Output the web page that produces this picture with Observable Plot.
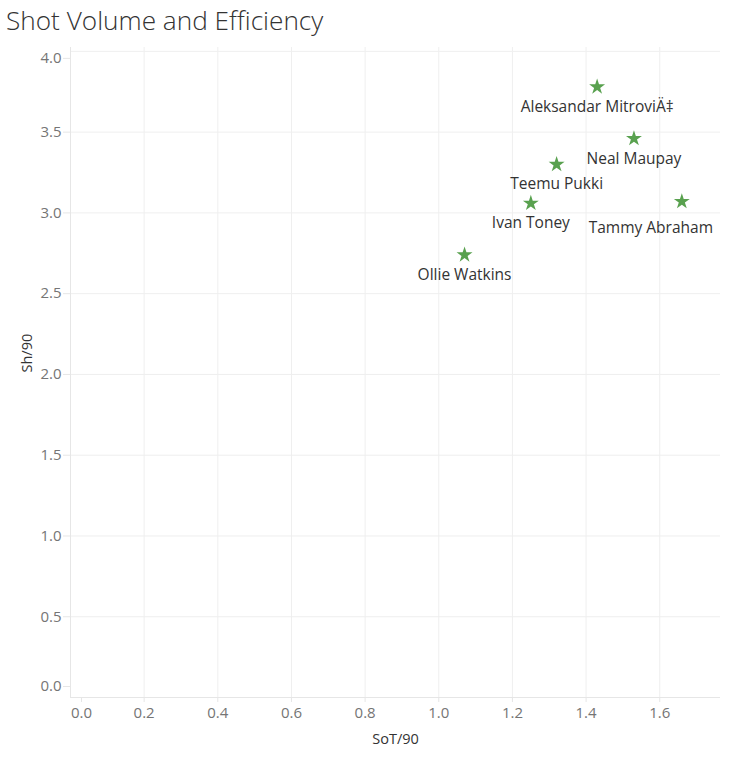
<!DOCTYPE html>
<html>
<head>
<meta charset="utf-8">
<script src="https://cdn.jsdelivr.net/npm/d3@7"></script>
<script src="https://cdn.jsdelivr.net/npm/@observablehq/plot@0.6"></script>
<style>
  body { margin: 0; background: #fff; }
  #title { font-family: "Open Sans", sans-serif; font-weight: 300; font-size: 26.2px; color: #333; height: 40px; line-height: 40px; padding-left: 6px; box-sizing: border-box; white-space: nowrap; }
  #chart svg { display: block; }
</style>
</head>
<body>
<div id="title">Shot Volume and Efficiency</div>
<div id="chart"></div>
<script>
const players = ["Aleksandar MitroviÄ‡", "Neal Maupay", "Teemu Pukki", "Ivan Toney", "Tammy Abraham", "Ollie Watkins"];
const sotPer90 = [1.43, 1.53, 1.32, 1.25, 1.66, 1.07];
const shPer90 = [3.78, 3.46, 3.30, 3.06, 3.07, 2.74];
const xTicks = [0, 0.2, 0.4, 0.6, 0.8, 1.0, 1.2, 1.4, 1.6];
const yTicks = [0, 0.5, 1.0, 1.5, 2.0, 2.5, 3.0, 3.5, 4.0];

const data = players.map((name, i) => ({name, x: sotPer90[i], y: shPer90[i]}));
const fmt = d3.format(".1f");
const font = "'Open Sans', sans-serif";
const tickColor = "#757575";
const lineColor = "#e6e6e6";
const gridColor = "#efefef";
const inner = (arr) => arr.filter((d, i) => i > 0 && i < arr.length - 1);
const tickFont = 15;
const labelFont = 15.5;

const chart = Plot.plot({
  width: 729,
  height: 719,
  marginTop: 7,
  marginBottom: 62,
  marginLeft: 70,
  marginRight: 9,
  style: {fontFamily: font, fontSize: tickFont + "px", background: "#fff"},
  x: {domain: [0, 1.765]},
  y: {domain: [0, 4.024]},
  marks: [
    Plot.gridX(xTicks.slice(1), {stroke: gridColor, strokeOpacity: 1}),
    Plot.gridY(yTicks.slice(1), {stroke: gridColor, strokeOpacity: 1}),
    Plot.ruleX([0], {stroke: lineColor}),
    Plot.ruleY([0], {stroke: lineColor}),
    Plot.axisX(xTicks.slice(1), {tickSize: 5, tickPadding: 5, tickFormat: fmt, stroke: lineColor, fill: tickColor, label: null, fontSize: tickFont}),
    Plot.axisX([0], {tickSize: 5, tickPadding: 5, tickFormat: fmt, stroke: lineColor, fill: tickColor, label: null, dx: 11, fontSize: tickFont}),
    Plot.axisY(inner(yTicks), {tickSize: 7, tickPadding: 2, tickFormat: fmt, stroke: lineColor, fill: tickColor, label: null, fontSize: tickFont}),
    Plot.axisY([yTicks[0]], {tickSize: 7, tickPadding: 2, tickFormat: fmt, stroke: lineColor, fill: tickColor, label: null, dy: -11, fontSize: tickFont}),
    Plot.axisY([yTicks[yTicks.length - 1]], {tickSize: 7, tickPadding: 2, tickFormat: fmt, stroke: lineColor, fill: tickColor, label: null, dy: 7, fontSize: tickFont}),
    Plot.text(["SoT/90"], {frameAnchor: "bottom", text: d => d, dy: 46, fill: "#333", fontSize: 14.5}),
    Plot.text(["Sh/90"], {frameAnchor: "left", text: d => d, dx: -43, rotate: -90, fill: "#333", fontSize: 14.5}),
    Plot.dot(data, {x: "x", y: "y", symbol: "star", r: 5, fill: "#59A14F", stroke: null}),
    Plot.text(data.filter(d => d.name !== "Tammy Abraham"), {x: "x", y: "y", text: "name", dy: 20, fill: "#333", fontSize: labelFont}),
    Plot.text(data.filter(d => d.name === "Tammy Abraham"), {x: "x", y: "y", text: "name", dx: -31, dy: 26, fill: "#333", fontSize: labelFont})
  ]
});
document.getElementById("chart").appendChild(chart);
</script>
</body>
</html>
